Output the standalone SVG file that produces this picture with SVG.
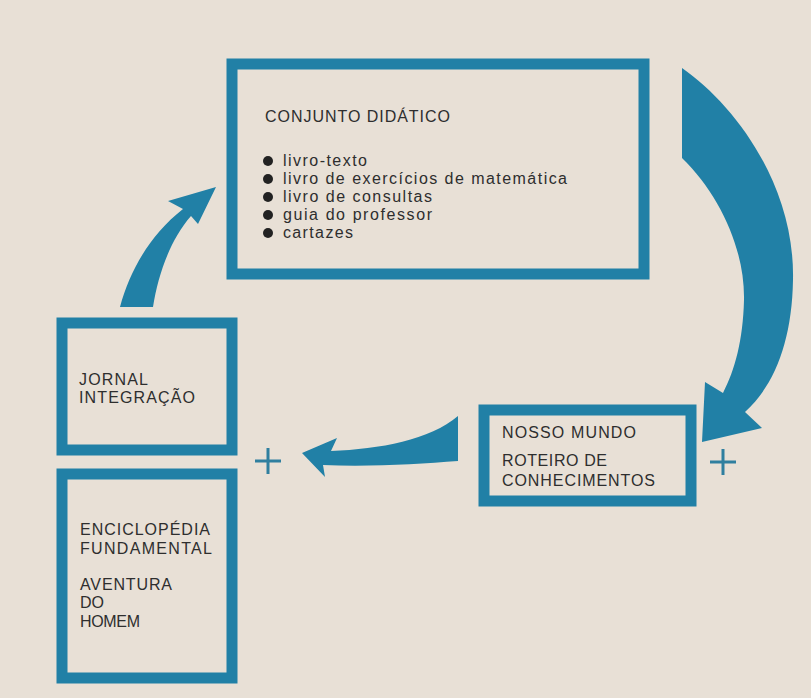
<svg xmlns="http://www.w3.org/2000/svg" width="811" height="698" viewBox="0 0 811 698">
<style>
.box{fill:none;stroke:#2180a6;stroke-width:11}
.arrow{fill:#2180a6;stroke:none}
.plus{stroke:#2f7f9f;stroke-width:3;fill:none}
text{font-family:"Liberation Sans",Arial,sans-serif;fill:#2e2e2e;font-size:16px}
.bullet{fill:#222}
</style>
<rect x="0" y="0" width="811" height="698" fill="#e8e0d6"/>
<g id="conjunto-didatico">
<rect class="box" x="232" y="64" width="412" height="210"/>
<text x="265" y="122" textLength="185" lengthAdjust="spacing">CONJUNTO DIDÁTICO</text>
<circle class="bullet" cx="268" cy="161" r="5"/>
<text x="283" y="166" textLength="84" lengthAdjust="spacing">livro-texto</text>
<circle class="bullet" cx="268" cy="179" r="5"/>
<text x="283" y="184" textLength="284" lengthAdjust="spacing">livro de exercícios de matemática</text>
<circle class="bullet" cx="268" cy="197" r="5"/>
<text x="283" y="202" textLength="149" lengthAdjust="spacing">livro de consultas</text>
<circle class="bullet" cx="268" cy="215" r="5"/>
<text x="283" y="220" textLength="149" lengthAdjust="spacing">guia do professor</text>
<circle class="bullet" cx="268" cy="233" r="5"/>
<text x="283" y="238" textLength="70" lengthAdjust="spacing">cartazes</text>
</g>
<g id="jornal-integracao">
<rect class="box" x="62" y="323" width="170" height="127"/>
<text x="79" y="385" textLength="69" lengthAdjust="spacing">JORNAL</text>
<text x="79" y="403" textLength="116" lengthAdjust="spacing">INTEGRAÇÃO</text>
</g>
<g id="enciclopedia">
<rect class="box" x="62" y="474" width="170" height="204"/>
<text x="80" y="535" textLength="130" lengthAdjust="spacing">ENCICLOPÉDIA</text>
<text x="80" y="554" textLength="132" lengthAdjust="spacing">FUNDAMENTAL</text>
<text x="80" y="590" textLength="92" lengthAdjust="spacing">AVENTURA</text>
<text x="80" y="608">DO</text>
<text x="80" y="627" textLength="60" lengthAdjust="spacing">HOMEM</text>
</g>
<g id="nosso-mundo">
<rect class="box" x="484" y="410" width="207" height="91"/>
<text x="502" y="438" textLength="134" lengthAdjust="spacing">NOSSO MUNDO</text>
<text x="502" y="466" textLength="105" lengthAdjust="spacing">ROTEIRO DE</text>
<text x="502" y="486" textLength="153" lengthAdjust="spacing">CONHECIMENTOS</text>
</g>
<g id="connectors">
<path class="arrow" d="M682,68 C735,105 795,185 793,280 C792,340 775,385 745,412 L762,428 L702,442 L705,382 L723,393 C735,370 743,340 744,300 C745,250 720,195 682,158 Z"/>
<path class="arrow" d="M458,416 C430,440 380,449 331,451 L337,438 L302,453 L325,477 L323,465 C370,467 420,464 458,461 Z"/>
<path class="arrow" d="M120,307 C130,270 150,235 183,209 L168,201 L216,187 L198,224 L191,216 C170,240 158,275 153,307 Z"/>
<path class="plus" d="M255,461 H281 M268,448 V474"/>
<path class="plus" d="M710,462 H736 M723,449 V475"/>
</g>
</svg>
